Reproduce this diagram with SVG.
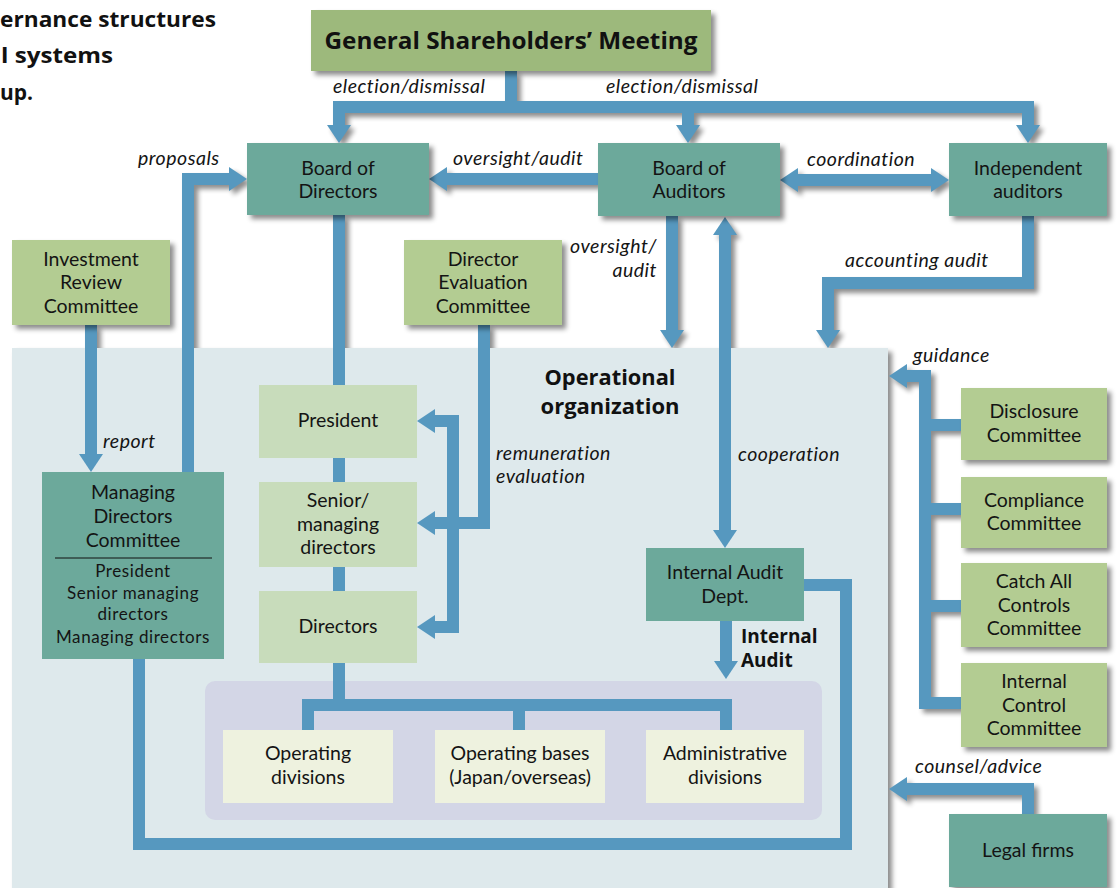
<svg xmlns="http://www.w3.org/2000/svg" xmlns:xlink="http://www.w3.org/1999/xlink" width="1118" height="888" viewBox="0 0 1118 888">
<style>
.teal{fill:#6ca99b}
.olive{fill:#9db97b}
.lg{fill:#b3cc92}
.pale{fill:#c8dcbb}
.cream{fill:#eef2df}
.t{font-family:Lato,"Open Sans","Liberation Sans",sans-serif;font-size:19.5px;fill:#141414;text-anchor:middle}
.s{font-family:Lato,"Open Sans","Liberation Sans",sans-serif;font-size:17px;letter-spacing:0.6px;fill:#141414;text-anchor:middle}
.l{font-family:Lato,"Open Sans","Liberation Sans",sans-serif;font-size:19.5px;letter-spacing:0.5px;font-style:italic;fill:#141414}
.b{font-family:"Open Sans","Noto Sans","Liberation Sans",sans-serif;font-weight:bold;fill:#111}
.c{fill:none;stroke:#5698bf;stroke-width:12;stroke-linejoin:miter}
.ae{marker-end:url(#ah)}
.as{marker-start:url(#ah)}
</style>
<defs>
<marker id="ah" viewBox="0 0 18 24" markerWidth="18" markerHeight="24" refX="0" refY="12" orient="auto-start-reverse" markerUnits="userSpaceOnUse">
<path d="M0,0 L18,12 L0,24 Z" fill="#5698bf"/>
</marker>
<filter id="ds" x="-10%" y="-10%" width="130%" height="140%">
<feDropShadow dx="4" dy="4" stdDeviation="2.5" flood-color="#000" flood-opacity="0.45"/>
</filter>
<filter id="so" filterUnits="userSpaceOnUse" x="0" y="0" width="1118" height="888">
<feGaussianBlur in="SourceAlpha" stdDeviation="2.5"/>
<feOffset dx="4" dy="4" result="o"/>
<feComponentTransfer><feFuncA type="linear" slope="0.45"/></feComponentTransfer>
</filter>
</defs>

<rect width="1118" height="888" fill="#ffffff"/>

<g id="title" class="b" font-size="22">
<text x="0" y="27" textLength="216" lengthAdjust="spacingAndGlyphs">ernance structures</text>
<text x="1" y="63" textLength="112" lengthAdjust="spacingAndGlyphs">l systems</text>
<text x="0" y="100" textLength="33" lengthAdjust="spacingAndGlyphs">up.</text>
</g>

<!-- connector shadows -->
<use xlink:href="#connectors" href="#connectors" filter="url(#so)"/>

<g id="operational-organization">
<rect x="12" y="348" width="876" height="560" fill="#dee9ec" filter="url(#ds)"/>
<text class="b" font-size="21" x="610" y="385" text-anchor="middle" textLength="131" lengthAdjust="spacingAndGlyphs">Operational</text>
<text class="b" font-size="21" x="610" y="414" text-anchor="middle" textLength="139" lengthAdjust="spacingAndGlyphs">organization</text>
<rect x="205" y="681" width="617" height="139" rx="10" fill="#d3d6e6"/>
</g>

<g id="connectors">
<path class="c" d="M511,71 V107"/>
<path class="c as ae" d="M339,125 V107 H1028 V125"/>
<path class="c ae" d="M688,107 V125"/>
<path class="c ae" d="M598,179 H447"/>
<path class="c as ae" d="M798,180 H931"/>
<path class="c ae" d="M188,472 V179 H229"/>
<path class="c ae" d="M91,325 V454"/>
<path class="c" d="M339,215 V705"/>
<path class="c" d="M308,730 V705 H726 V730"/>
<path class="c" d="M519,705 V730"/>
<path class="c ae" d="M672,216 V330"/>
<path class="c as ae" d="M725,235 V530"/>
<path class="c ae" d="M1028,216 V283 H828 V330"/>
<path class="c ae" d="M484,325 V523 H435"/>
<path class="c as ae" d="M435,421 H453 V627 H435"/>
<path class="c" d="M804,585 H846 V844 H139 V659"/>
<path class="c ae" d="M726,621 V661"/>
<path class="c ae" d="M961,703 H925 V376 H907"/>
<path class="c" d="M925,425 H961 M925,509 H961 M925,606 H961"/>
<path class="c ae" d="M1028,814 V789 H907"/>
</g>

<g id="labels" class="l">
<text x="333" y="93">election/dismissal</text>
<text x="606" y="93">election/dismissal</text>
<text x="138" y="165">proposals</text>
<text x="453" y="165">oversight/audit</text>
<text x="807" y="166">coordination</text>
<text x="657" y="253" text-anchor="end">oversight/</text>
<text x="657" y="277" text-anchor="end">audit</text>
<text x="845" y="267">accounting audit</text>
<text x="913" y="362">guidance</text>
<text x="103" y="448">report</text>
<text x="496" y="460">remuneration</text>
<text x="496" y="483">evaluation</text>
<text x="738" y="461">cooperation</text>
<text x="915" y="773">counsel/advice</text>
<text class="b" font-style="normal" font-size="19" letter-spacing="0" x="741" y="643">Internal</text>
<text class="b" font-style="normal" font-size="19" letter-spacing="0" x="741" y="667">Audit</text>
</g>

<g id="gsm">
<rect class="olive" x="311" y="10" width="400" height="61" filter="url(#ds)"/>
<text class="b" font-size="24" x="511" y="49" text-anchor="middle" textLength="373" lengthAdjust="spacingAndGlyphs">General Shareholders’ Meeting</text>
</g>

<g id="board-of-directors">
<rect class="teal" x="247" y="143" width="182" height="72" filter="url(#ds)"/>
<text class="t" x="338" y="175">Board of</text>
<text class="t" x="338" y="198">Directors</text>
</g>

<g id="board-of-auditors">
<rect class="teal" x="598" y="143" width="182" height="73" filter="url(#ds)"/>
<text class="t" x="689" y="175">Board of</text>
<text class="t" x="689" y="198">Auditors</text>
</g>

<g id="independent-auditors">
<rect class="teal" x="949" y="143" width="158" height="73" filter="url(#ds)"/>
<text class="t" x="1028" y="175">Independent</text>
<text class="t" x="1028" y="198">auditors</text>
</g>

<g id="investment-review-committee">
<rect class="lg" x="12" y="240" width="158" height="85" filter="url(#ds)"/>
<text class="t" x="91" y="266">Investment</text>
<text class="t" x="91" y="289">Review</text>
<text class="t" x="91" y="313">Committee</text>
</g>

<g id="director-evaluation-committee">
<rect class="lg" x="404" y="240" width="158" height="85" filter="url(#ds)"/>
<text class="t" x="483" y="266">Director</text>
<text class="t" x="483" y="289">Evaluation</text>
<text class="t" x="483" y="313">Committee</text>
</g>

<g id="managing-directors-committee">
<rect class="teal" x="42" y="472" width="182" height="187"/>
<text class="t" x="133" y="499">Managing</text>
<text class="t" x="133" y="523">Directors</text>
<text class="t" x="133" y="547">Committee</text>
<line x1="55" y1="558" x2="212" y2="558" stroke="#111" stroke-width="1"/>
<text class="s" x="133" y="577">President</text>
<text class="s" x="133" y="599">Senior managing</text>
<text class="s" x="133" y="620">directors</text>
<text class="s" x="133" y="643">Managing directors</text>
</g>

<g id="president">
<rect class="pale" x="259" y="385" width="158" height="73"/>
<text class="t" x="338" y="427">President</text>
</g>

<g id="senior-managing-directors">
<rect class="pale" x="259" y="482" width="158" height="85"/>
<text class="t" x="338" y="507">Senior/</text>
<text class="t" x="338" y="531">managing</text>
<text class="t" x="338" y="554">directors</text>
</g>

<g id="directors">
<rect class="pale" x="259" y="591" width="158" height="72"/>
<text class="t" x="338" y="633">Directors</text>
</g>

<g id="internal-audit-dept">
<rect class="teal" x="646" y="548" width="158" height="73"/>
<text class="t" x="725" y="579">Internal Audit</text>
<text class="t" x="725" y="603">Dept.</text>
</g>

<g id="operating-divisions">
<rect class="cream" x="223" y="730" width="170" height="73"/>
<text class="t" x="308" y="760">Operating</text>
<text class="t" x="308" y="784">divisions</text>
</g>

<g id="operating-bases">
<rect class="cream" x="435" y="730" width="170" height="73"/>
<text class="t" x="520" y="760">Operating bases</text>
<text class="t" x="520" y="784">(Japan/overseas)</text>
</g>

<g id="administrative-divisions">
<rect class="cream" x="646" y="730" width="158" height="73"/>
<text class="t" x="725" y="760">Administrative</text>
<text class="t" x="725" y="784">divisions</text>
</g>

<g id="disclosure-committee">
<rect class="lg" x="961" y="388" width="146" height="72" filter="url(#ds)"/>
<text class="t" x="1034" y="418">Disclosure</text>
<text class="t" x="1034" y="442">Committee</text>
</g>

<g id="compliance-committee">
<rect class="lg" x="961" y="477" width="146" height="71" filter="url(#ds)"/>
<text class="t" x="1034" y="507">Compliance</text>
<text class="t" x="1034" y="530">Committee</text>
</g>

<g id="catch-all-controls-committee">
<rect class="lg" x="961" y="563" width="146" height="84" filter="url(#ds)"/>
<text class="t" x="1034" y="588">Catch All</text>
<text class="t" x="1034" y="612">Controls</text>
<text class="t" x="1034" y="635">Committee</text>
</g>

<g id="internal-control-committee">
<rect class="lg" x="961" y="663" width="146" height="84" filter="url(#ds)"/>
<text class="t" x="1034" y="688">Internal</text>
<text class="t" x="1034" y="712">Control</text>
<text class="t" x="1034" y="735">Committee</text>
</g>

<g id="legal-firms">
<rect class="teal" x="949" y="814" width="158" height="73" filter="url(#ds)"/>
<text class="t" x="1028" y="857">Legal firms</text>
</g>
</svg>
